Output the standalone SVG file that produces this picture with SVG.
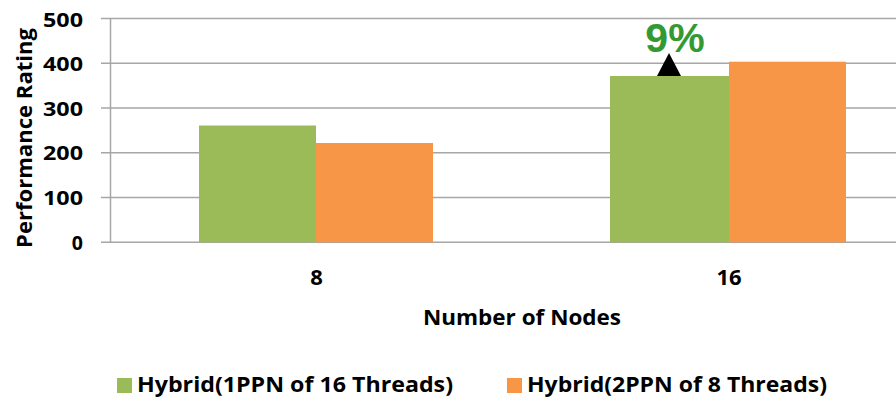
<svg xmlns="http://www.w3.org/2000/svg" width="896" height="398" viewBox="0 0 896 398">
<style>
.grid{stroke:#a6a6a6;stroke-width:1.5;fill:none}
.t{font-family:"Open Sans","Noto Sans",sans-serif;font-weight:700;fill:#000}
.g{fill:#9BBB59}
.o{fill:#F79646}
</style>
<rect width="896" height="398" fill="#fff"/>
<g id="grid">
<line class="grid" x1="101" y1="18.5" x2="896" y2="18.5"/>
<line class="grid" x1="101" y1="63.3" x2="896" y2="63.3"/>
<line class="grid" x1="101" y1="108" x2="896" y2="108"/>
<line class="grid" x1="101" y1="152.8" x2="896" y2="152.8"/>
<line class="grid" x1="101" y1="197.5" x2="896" y2="197.5"/>
<line class="grid" x1="101" y1="242.3" x2="896" y2="242.3"/>
<line class="grid" x1="110.5" y1="18.5" x2="110.5" y2="242.3"/>
</g>
<g id="bars">
<rect class="g" x="199" y="125.5" width="117" height="116.8"/>
<rect class="o" x="316" y="143" width="117" height="99.3"/>
<rect class="g" x="610" y="76" width="119" height="166.3"/>
<rect class="o" x="729" y="61.7" width="117" height="180.6"/>
</g>
<g id="yticks" class="t" font-size="19.5" text-anchor="end">
<text x="83" y="27" textLength="40" lengthAdjust="spacingAndGlyphs">500</text>
<text x="83" y="71" textLength="40" lengthAdjust="spacingAndGlyphs">400</text>
<text x="83" y="116" textLength="40" lengthAdjust="spacingAndGlyphs">300</text>
<text x="83" y="160" textLength="40" lengthAdjust="spacingAndGlyphs">200</text>
<text x="83" y="205" textLength="40" lengthAdjust="spacingAndGlyphs">100</text>
<text x="83" y="249.5">0</text>
</g>
<g id="ylabel">
<text class="t" font-size="21" text-anchor="middle" transform="translate(32,138) rotate(-90)" textLength="220" lengthAdjust="spacingAndGlyphs">Performance Rating</text>
</g>
<g id="xticks" class="t" font-size="22" text-anchor="middle">
<text x="316.5" y="285">8</text>
<text x="729" y="285">16</text>
</g>
<g id="xlabel">
<text class="t" font-size="21" x="522" y="325" text-anchor="middle" textLength="198" lengthAdjust="spacingAndGlyphs">Number of Nodes</text>
</g>
<g id="annotation">
<polygon points="669,53 657,76 681,76" fill="#000"/>
<text x="675" y="52" font-family="'Liberation Sans',Arial,sans-serif" font-weight="bold" font-size="41" fill="#339933" text-anchor="middle">9%</text>
</g>
<g id="legend">
<rect class="g" x="117" y="378" width="15" height="15"/>
<text class="t" x="137" y="392" font-size="22" textLength="316" lengthAdjust="spacingAndGlyphs">Hybrid(1PPN of 16 Threads)</text>
<rect class="o" x="507" y="378" width="15" height="15"/>
<text class="t" x="527" y="392" font-size="22" textLength="300" lengthAdjust="spacingAndGlyphs">Hybrid(2PPN of 8 Threads)</text>
</g>
</svg>
